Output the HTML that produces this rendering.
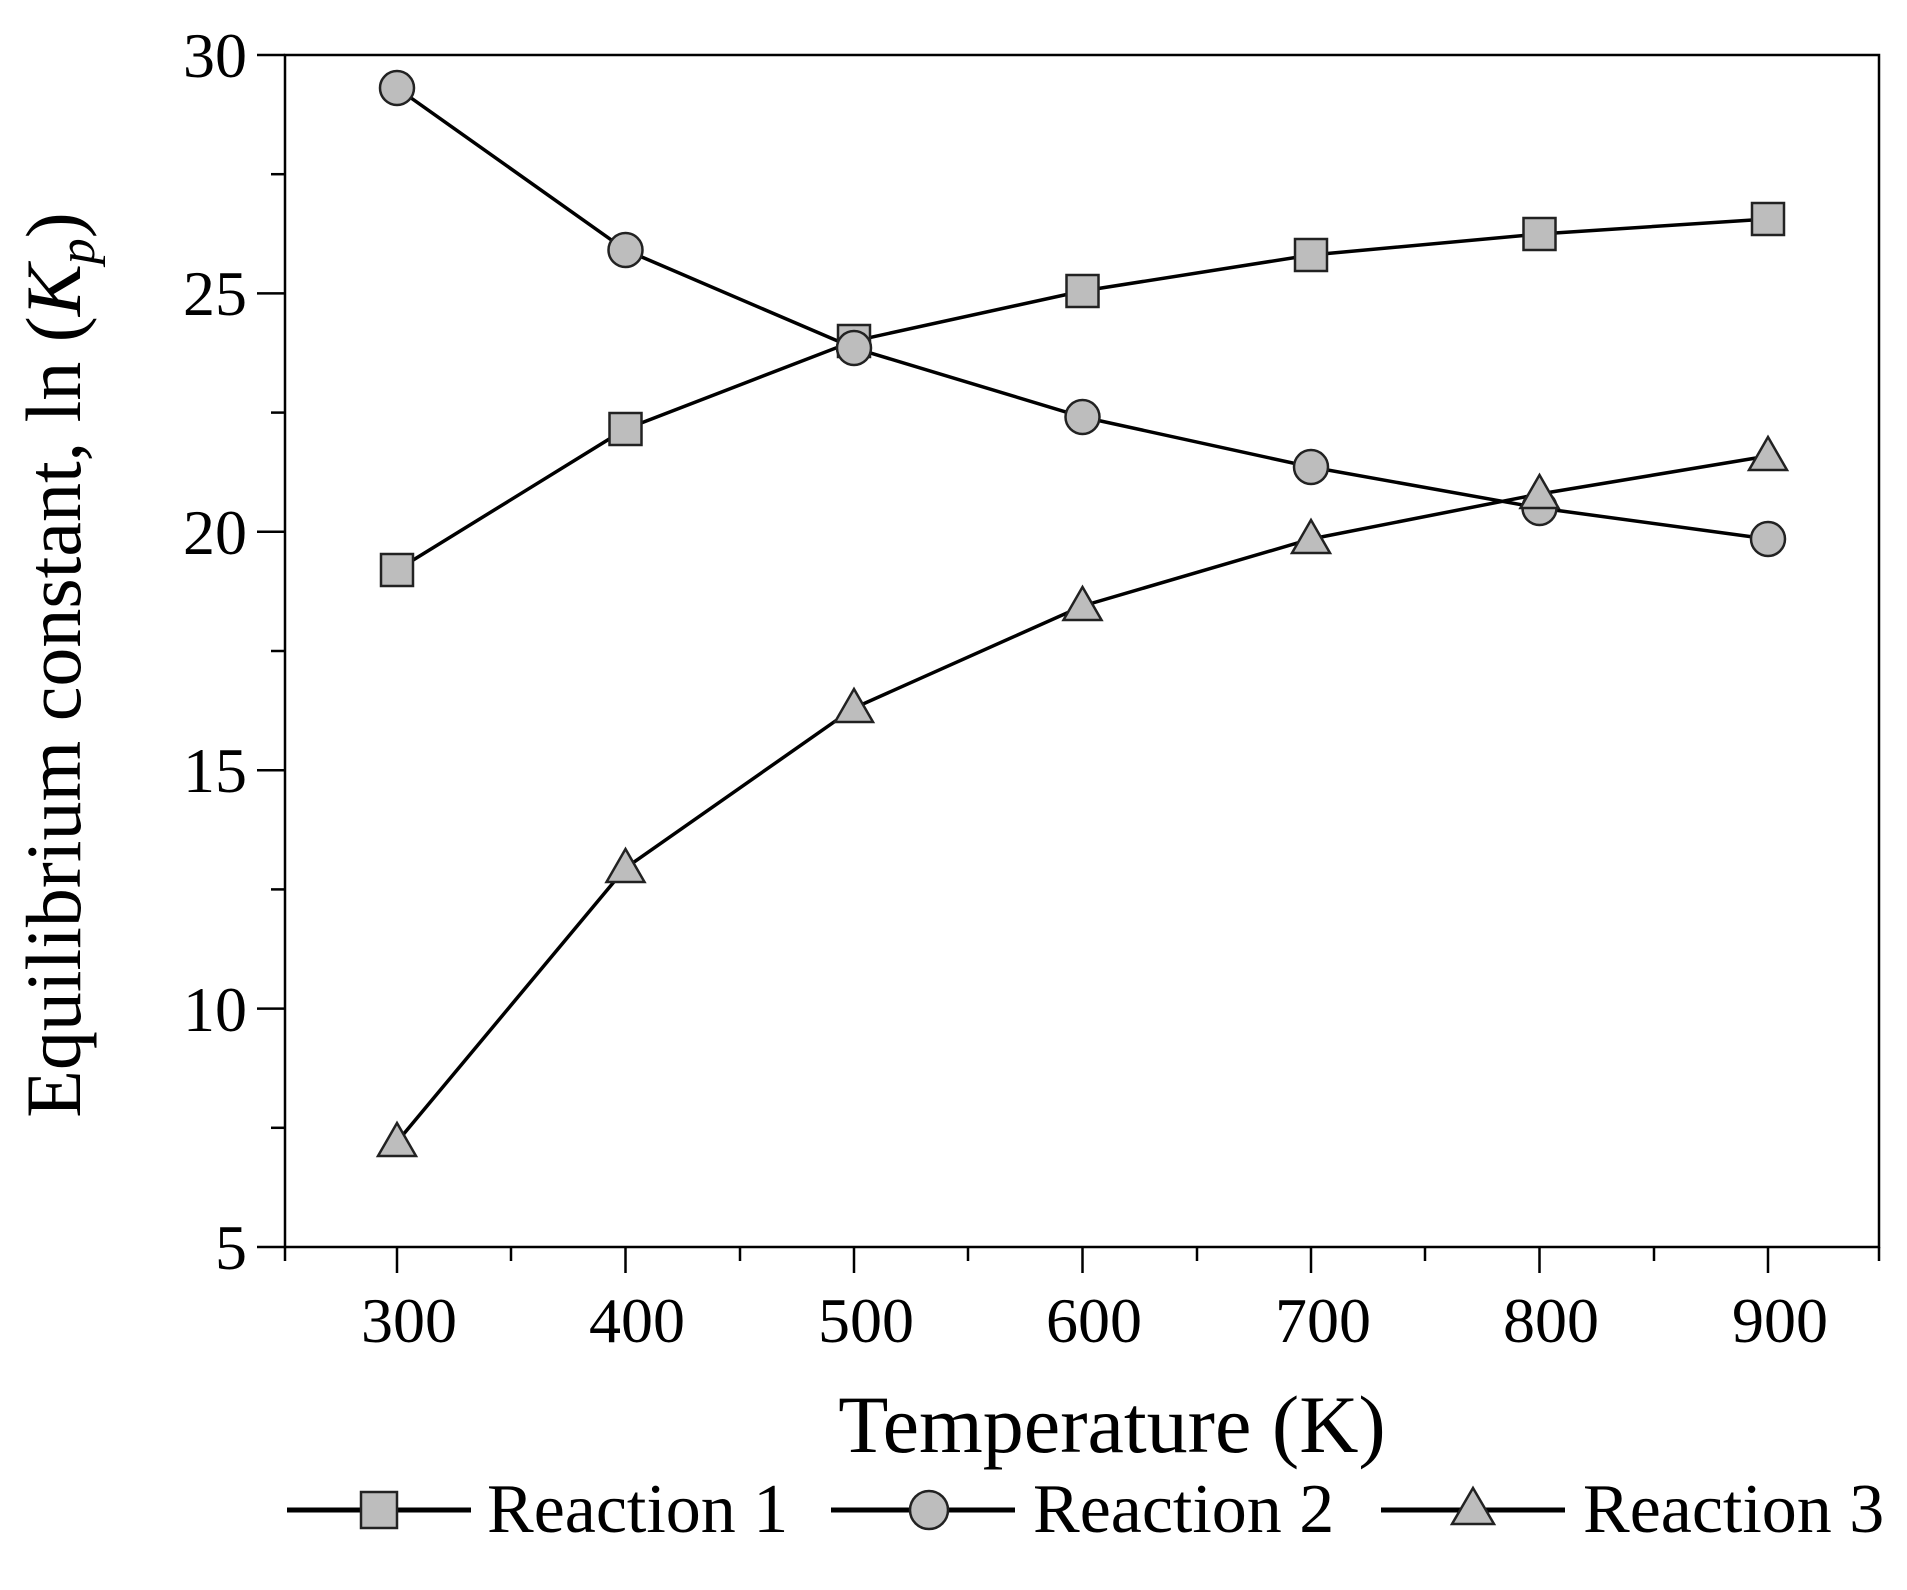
<!DOCTYPE html>
<html><head><meta charset="utf-8"><style>html,body{margin:0;padding:0;background:#fff}</style></head>
<body>
<svg width="1907" height="1585" xmlns="http://www.w3.org/2000/svg" font-family="Liberation Serif, serif">
<rect width="1907" height="1585" fill="#fff"/>
<g stroke="#000" stroke-width="2.5" fill="none">
<rect x="285" y="55" width="1594" height="1192"/>
<line x1="257" y1="55" x2="285" y2="55"/><line x1="257" y1="293.4" x2="285" y2="293.4"/><line x1="257" y1="531.8" x2="285" y2="531.8"/><line x1="257" y1="770.2" x2="285" y2="770.2"/><line x1="257" y1="1008.6" x2="285" y2="1008.6"/><line x1="257" y1="1247" x2="285" y2="1247"/>
<line x1="271" y1="174.2" x2="285" y2="174.2"/><line x1="271" y1="412.6" x2="285" y2="412.6"/><line x1="271" y1="651" x2="285" y2="651"/><line x1="271" y1="889.4" x2="285" y2="889.4"/><line x1="271" y1="1127.8" x2="285" y2="1127.8"/>
<line x1="397" y1="1247" x2="397" y2="1273"/><line x1="625.5" y1="1247" x2="625.5" y2="1273"/><line x1="854" y1="1247" x2="854" y2="1273"/><line x1="1082.5" y1="1247" x2="1082.5" y2="1273"/><line x1="1311" y1="1247" x2="1311" y2="1273"/><line x1="1539.5" y1="1247" x2="1539.5" y2="1273"/><line x1="1768" y1="1247" x2="1768" y2="1273"/>
<line x1="285" y1="1247" x2="285" y2="1261"/><line x1="511" y1="1247" x2="511" y2="1261"/><line x1="740" y1="1247" x2="740" y2="1261"/><line x1="968" y1="1247" x2="968" y2="1261"/><line x1="1197" y1="1247" x2="1197" y2="1261"/><line x1="1425" y1="1247" x2="1425" y2="1261"/><line x1="1654" y1="1247" x2="1654" y2="1261"/><line x1="1879" y1="1247" x2="1879" y2="1261"/>
</g>
<g font-size="64" fill="#000" text-anchor="end">
<text x="247" y="77">30</text><text x="247" y="315">25</text><text x="247" y="554">20</text><text x="247" y="792">15</text><text x="247" y="1031">10</text><text x="247" y="1269">5</text>
</g>
<g font-size="64" fill="#000" text-anchor="middle">
<text x="409" y="1342">300</text><text x="637" y="1342">400</text><text x="866" y="1342">500</text><text x="1094" y="1342">600</text><text x="1323" y="1342">700</text><text x="1551" y="1342">800</text><text x="1780" y="1342">900</text>
</g>
<text x="1112" y="1452" font-size="82" text-anchor="middle">Temperature (K)</text>
<text transform="translate(80,665) rotate(-90)" font-size="78" text-anchor="middle">Equilibrium constant, ln (<tspan font-style="italic">K</tspan><tspan font-style="italic" font-size="52" dy="14">p</tspan><tspan dy="-14">)</tspan></text>
<g stroke="#000" stroke-width="3.5" fill="none">
<polyline points="397,570 625.5,429 854,341 1082.5,291 1311,255 1539.5,234 1768,219"/>
<polyline points="397,88 625.5,250 854,348 1082.5,417 1311,467 1539.5,508 1768,539"/>
<polyline points="397,1142 625.5,868 854,708 1082.5,606 1311,539 1539.5,494 1768,456"/>
</g>
<g stroke="#000" stroke-width="5" fill="none">
<line x1="287" y1="1510" x2="471" y2="1510"/><line x1="831" y1="1510" x2="1015" y2="1510"/><line x1="1381" y1="1510" x2="1565" y2="1510"/>
</g>
<g fill="#bdbdbd" stroke="#222" stroke-width="2.5">
<rect x="381" y="554" width="32" height="32"/><rect x="609.5" y="413" width="32" height="32"/><rect x="838" y="325" width="32" height="32"/><rect x="1066.5" y="275" width="32" height="32"/><rect x="1295" y="239" width="32" height="32"/><rect x="1523.5" y="218" width="32" height="32"/><rect x="1752" y="203" width="32" height="32"/>
<circle cx="397" cy="88" r="17"/><circle cx="625.5" cy="250" r="17"/><circle cx="854" cy="348" r="17"/><circle cx="1082.5" cy="417" r="17"/><circle cx="1311" cy="467" r="17"/><circle cx="1539.5" cy="508" r="17"/><circle cx="1768" cy="539" r="17"/>
<polygon points="397,1123 416,1156 378,1156"/><polygon points="625.5,849 644.5,882 606.5,882"/><polygon points="854,689 873,722 835,722"/><polygon points="1082.5,587 1101.5,620 1063.5,620"/><polygon points="1311,520 1330,553 1292,553"/><polygon points="1539.5,475 1558.5,508 1520.5,508"/><polygon points="1768,437 1787,470 1749,470"/>
<rect x="361" y="1492" width="36" height="36"/>
<circle cx="929" cy="1510" r="19"/>
<polygon points="1473,1488 1494,1524 1452,1524"/>
</g>
<g font-size="70" fill="#000">
<text x="487" y="1532">Reaction 1</text><text x="1033" y="1532">Reaction 2</text><text x="1583" y="1532">Reaction 3</text>
</g>
</svg>
</body></html>
